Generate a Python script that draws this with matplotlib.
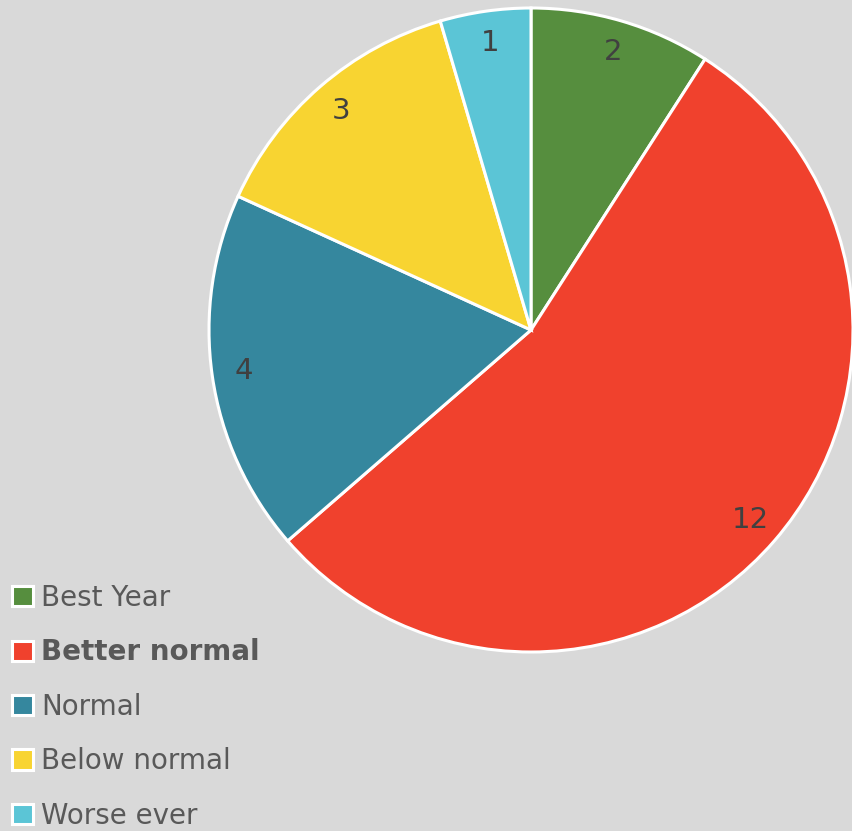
import matplotlib.pyplot as plt

plt.rcParams["font.family"] = "DejaVu Sans"

# Pie data
categories = ["Best Year", "Better normal", "Normal", "Below normal", "Worse ever"]
values = [2, 12, 4, 3, 1]
colors = ["#568E3E", "#F0412D", "#35879E", "#F8D431", "#5BC5D6"]

bg = "#D9D9D9"
W, H = 853, 831
fig = plt.figure(figsize=(W / 100, H / 100), dpi=100, facecolor=bg)

# pie centre (531, 330) px, radius 322 px
cx, cy, r = 531, 330, 322
ax = fig.add_axes([(cx - r) / W, 1 - (cy + r) / H, 2 * r / W, 2 * r / H])
ax.set_facecolor(bg)

wedges, texts = ax.pie(
    values, colors=colors, startangle=90, counterclock=False,
    labels=[str(v) for v in values], labeldistance=0.9,
    wedgeprops=dict(edgecolor="white", linewidth=2.2),
    textprops=dict(fontsize=21, color="#404040"),
)
for t in texts:
    t.set_horizontalalignment("center")
    t.set_verticalalignment("center")
ax.set_xlim(-1, 1)
ax.set_ylim(-1, 1)
ax.set_aspect("equal")
ax.axis("off")

leg = fig.legend(
    wedges, categories, loc="upper left",
    bbox_to_anchor=(12 / W, 1 - 584 / H),
    frameon=False, fontsize=20, handlelength=0.75, handleheight=0.75,
    handletextpad=0.3, labelspacing=0.95, borderaxespad=0, borderpad=0,
    labelcolor="#595959",
)
leg.get_texts()[1].set_fontweight("bold")

fig.savefig("out.png", dpi=100, facecolor=bg)
